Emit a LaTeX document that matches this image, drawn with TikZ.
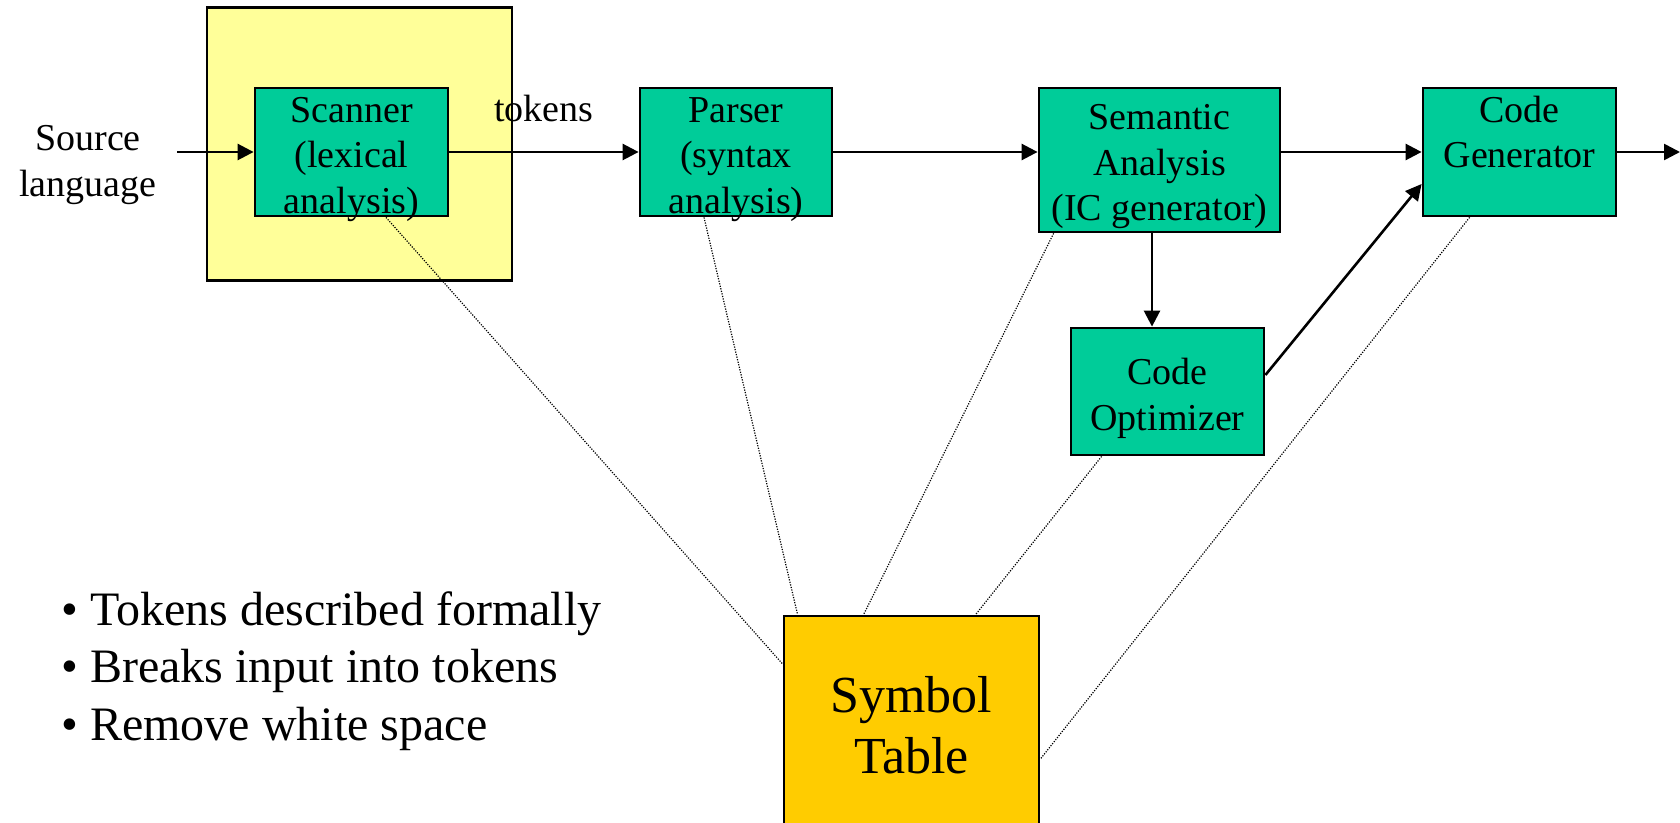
\documentclass[tikz,border=0pt]{standalone}
\usepackage{fontspec}
\setmainfont{Liberation Serif}
\usetikzlibrary{arrows.meta}
\definecolor{stagegreen}{RGB}{0,204,153}
\definecolor{scanyellow}{RGB}{255,255,153}
\definecolor{tablegold}{RGB}{255,204,0}
\tikzset{
  stage/.style={draw=black, line width=1.4pt, fill=stagegreen, inner sep=0pt},
  stagetext/.style={align=center, inner sep=0pt, font=\fontsize{19}{22.75}\selectfont},
  flow/.style={line width=1.3pt, -{Triangle[length=8pt,width=8pt]}},
  link/.style={line width=0.6pt, dash pattern=on 0.6pt off 0.7pt},
  plaintext/.style={align=center, inner sep=0pt, font=\fontsize{19}{23}\selectfont},
}
\begin{document}
\begin{tikzpicture}[x=0.5pt,y=-0.5pt]
\useasboundingbox (0,0) rectangle (1680,823);

% scanner focus area
\node[draw=black, line width=1.4pt, fill=scanyellow, minimum width=152.5pt,
      minimum height=136.75pt] (area) at (359.5,144) {};

% compiler phases
\node[stage, minimum width=96.5pt, minimum height=64pt] (scanner) at (351.5,152) {};
\node[stage, minimum width=96pt, minimum height=64pt] (parser) at (736,152) {};
\node[stage, minimum width=120.5pt, minimum height=72pt] (semantic) at (1159.5,160) {};
\node[stage, minimum width=96.5pt, minimum height=64pt] (codegen) at (1519.5,152) {};
\node[stage, minimum width=96.5pt, minimum height=63.5pt] (optimizer) at (1167.5,391.5) {};
\node[draw=black, line width=1.4pt, fill=tablegold, minimum width=127.5pt,
      minimum height=112pt, inner sep=0pt] (symtab) at (911.5,728) {};

% phase names
\node[stagetext] (scannertext) at ([yshift=-3.75pt]scanner.center)
  {Scanner\\(lexical\\analysis)};
\node[stagetext] (parsertext) at ([yshift=-3.75pt]parser.center)
  {Parser\\(syntax\\analysis)};
\node[stagetext] (semantictext) at ([yshift=-3.5pt]semantic.center)
  {Semantic\\Analysis\\(IC generator)};
\node[stagetext, anchor=north] (codegentext) at ([yshift=-4.4pt]codegen.north)
  {Code\\Generator};
\node[stagetext] (optimizertext) at ([yshift=-3.5pt]optimizer.center)
  {Code\\Optimizer};
\node[align=center, inner sep=0pt, font=\fontsize{26}{30.5}\selectfont]
  (symtabtext) at ([yshift=1.6pt]symtab.center) {Symbol\\Table};

% free ends
\coordinate (src) at (177,152);
\coordinate (out) at (1680,152);
\coordinate (down) at (1152,0);

% labels
\node[plaintext] (srclabel) at (88,165) {Source\\language};
\node[plaintext] (tokens) at (544,109) {tokens};
\node[align=left, inner sep=0pt, anchor=west, font=\fontsize{24}{28.75}\selectfont]
  (notes) at (61,671)
  {• Tokens described formally\\• Breaks input into tokens\\• Remove white space};

% data flow
\draw[flow] (src) -- (scanner.west);
\draw[flow] (scanner.east) -- (parser.west);
\draw[flow] (parser.east) -- (parser.east -| semantic.west);
\draw[flow] (semantic.east |- codegen.west) -- (codegen.west);
\draw[flow] (codegen.east) -- (out);
\draw[flow] (semantic.south -| down) -- (optimizer.north -| down);
\draw[flow] ([yshift=8.25pt]optimizer.east) -- ([yshift=-16pt]codegen.west);

% symbol table access
\draw[link] ([xshift=17.25pt]scanner.south) -- ([yshift=32pt]symtab.west);
\draw[link] ([xshift=-16pt]parser.south) -- ([xshift=7.5pt]symtab.north west);
\draw[link] ([xshift=8pt]semantic.south west) -- ([xshift=40.5pt]symtab.north west);
\draw[link] ([xshift=16pt]optimizer.south west) -- ([xshift=96.5pt]symtab.north west);
\draw[link] ([xshift=24pt]codegen.south west) -- ([yshift=-15.5pt]symtab.east);
\end{tikzpicture}
\end{document}
